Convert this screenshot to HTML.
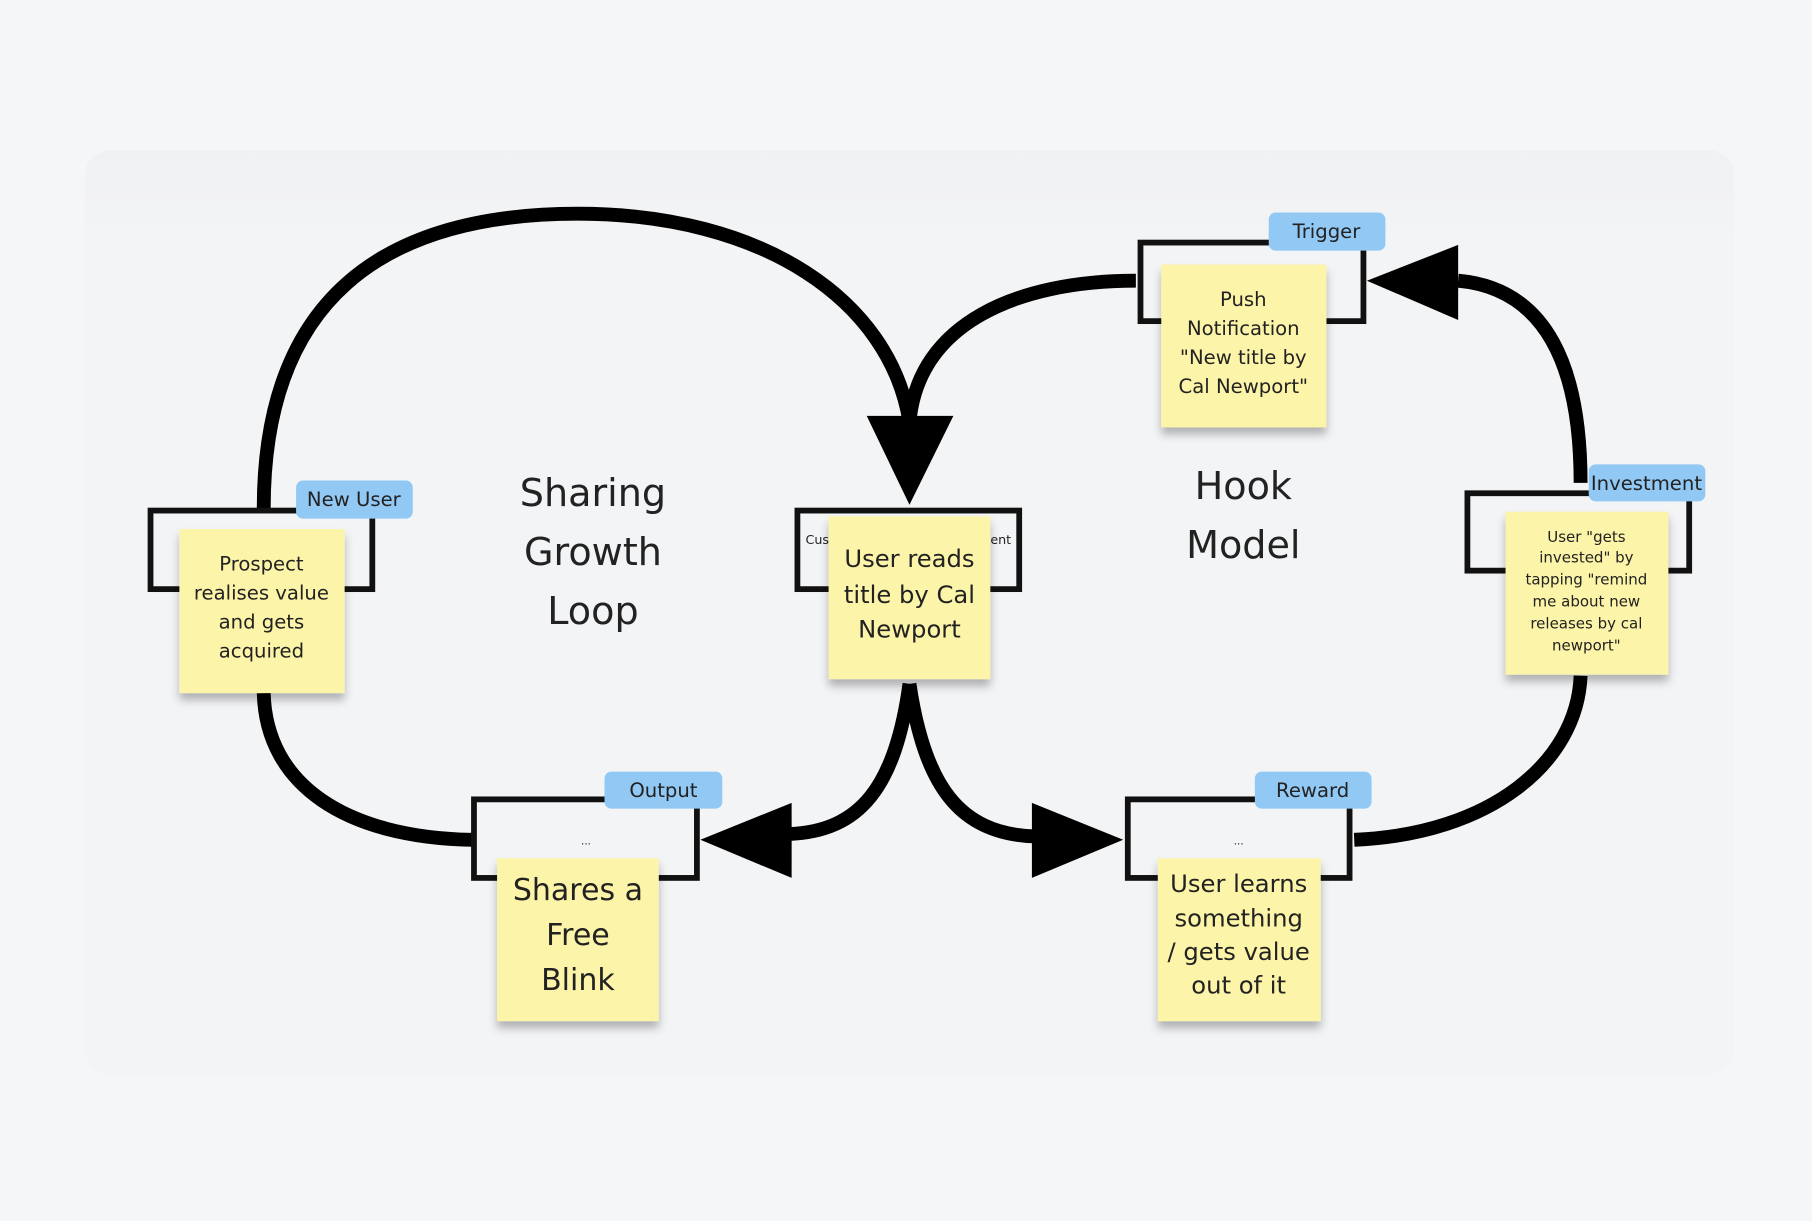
<!DOCTYPE html>
<html><head><meta charset="utf-8"><style>
html,body{margin:0;padding:0;background:#f5f6f8;}
svg{display:block}
text{font-family:"DejaVu Sans","Liberation Sans",sans-serif;fill:#222;}
</style></head><body>
<svg width="1812" height="1221" viewBox="0 0 1568 1057" xmlns="http://www.w3.org/2000/svg">
<defs>
<filter id="sh" x="-20%" y="-20%" width="140%" height="150%"><feDropShadow dx="0" dy="6" stdDeviation="4" flood-color="#000" flood-opacity="0.28"/></filter>
<linearGradient id="pg" x1="0" y1="0" x2="0" y2="1"><stop offset="0" stop-color="#f0f1f3"/><stop offset="0.1" stop-color="#f3f4f6"/><stop offset="1" stop-color="#f3f4f6"/></linearGradient>
</defs>
<rect width="1568" height="1057" fill="#f5f6f8"/>
<rect x="73" y="130" width="1428" height="800" rx="22" fill="url(#pg)"/>
<g fill="none" stroke="#000" stroke-width="12" stroke-linecap="butt">
<path d="M228,440 C228,260 330,185 500,185 C660,185 770,260 787,365"/>
<path d="M983,243 C880,243 795,280 787,365"/>
<path d="M787,592 C775,680 745,720 682,722"/>
<path d="M787,592 C800,680 830,722 895,724"/>
<path d="M228,600 C230,680 300,725 408,727"/>
<path d="M1172,727 C1290,722 1365,660 1368,585"/>
<path d="M1368,418 C1368,320 1340,250 1262,243"/>
</g>
<g fill="#000">
<polygon points="750,360 825,360 787,437"/>
<polygon points="606,727 685,695 685,760"/>
<polygon points="972,727 893,695 893,760"/>
<polygon points="1183,243 1262,212 1262,277"/>
</g>
<g fill="none" stroke="#111" stroke-width="5">
<rect x="130" y="442" width="192" height="68"/>
<rect x="690" y="442" width="192" height="68"/>
<rect x="410" y="692" width="193" height="68"/>
<rect x="987" y="210" width="193" height="68"/>
<rect x="1270" y="427" width="192" height="67"/>
<rect x="976" y="692" width="192" height="68"/>
</g>
<text x="697" y="471" font-size="11" fill="#444">Cus</text>
<text x="857" y="471" font-size="11" fill="#444">ent</text>
<text x="507" y="731" font-size="9" text-anchor="middle" fill="#666">...</text>
<text x="1072" y="731" font-size="9" text-anchor="middle" fill="#666">...</text>
<g fill="#92c8f4">
<rect x="256" y="416" width="101" height="33" rx="6"/>
<rect x="523" y="668" width="102" height="32" rx="6"/>
<rect x="1098" y="184" width="101" height="33" rx="6"/>
<rect x="1375" y="402" width="101" height="32" rx="6"/>
<rect x="1086" y="668" width="101" height="32" rx="6"/>
</g>
<g font-size="17" text-anchor="middle">
<text x="306" y="438">New User</text>
<text x="574" y="690">Output</text>
<text x="1148" y="206">Trigger</text>
<text x="1425" y="424">Investment</text>
<text x="1136" y="690">Reward</text>
</g>
<g fill="#fcf4a8" filter="url(#sh)">
<rect x="155" y="458" width="143" height="142"/>
<rect x="717" y="447" width="140" height="141"/>
<rect x="430" y="743" width="140" height="141"/>
<rect x="1005" y="229" width="143" height="141"/>
<rect x="1303" y="443" width="141" height="141"/>
<rect x="1002" y="743" width="141" height="141"/>
</g>
<g font-size="17" text-anchor="middle">
<text x="226" y="494">Prospect</text>
<text x="226" y="519">realises value</text>
<text x="226" y="544">and gets</text>
<text x="226" y="569">acquired</text>
<text x="1076" y="265">Push</text>
<text x="1076" y="290">Notification</text>
<text x="1076" y="315">"New title by</text>
<text x="1076" y="340">Cal Newport"</text>
</g>
<g font-size="21" text-anchor="middle">
<text x="787" y="491">User reads</text>
<text x="787" y="522">title by Cal</text>
<text x="787" y="552">Newport</text>
<text x="1072" y="772">User learns</text>
<text x="1072" y="802">something</text>
<text x="1072" y="831">/ gets value</text>
<text x="1072" y="860">out of it</text>
</g>
<g font-size="26" text-anchor="middle">
<text x="500" y="779">Shares a</text>
<text x="500" y="818">Free</text>
<text x="500" y="857">Blink</text>
</g>
<g font-size="13" text-anchor="middle">
<text x="1373" y="469">User "gets</text>
<text x="1373" y="487">invested" by</text>
<text x="1373" y="506">tapping "remind</text>
<text x="1373" y="525">me about new</text>
<text x="1373" y="544">releases by cal</text>
<text x="1373" y="563">newport"</text>
</g>
<g font-size="33" text-anchor="middle">
<text x="513" y="438">Sharing</text>
<text x="513" y="489">Growth</text>
<text x="513" y="540">Loop</text>
<text x="1076" y="432">Hook</text>
<text x="1076" y="483">Model</text>
</g>
</svg>
</body></html>
